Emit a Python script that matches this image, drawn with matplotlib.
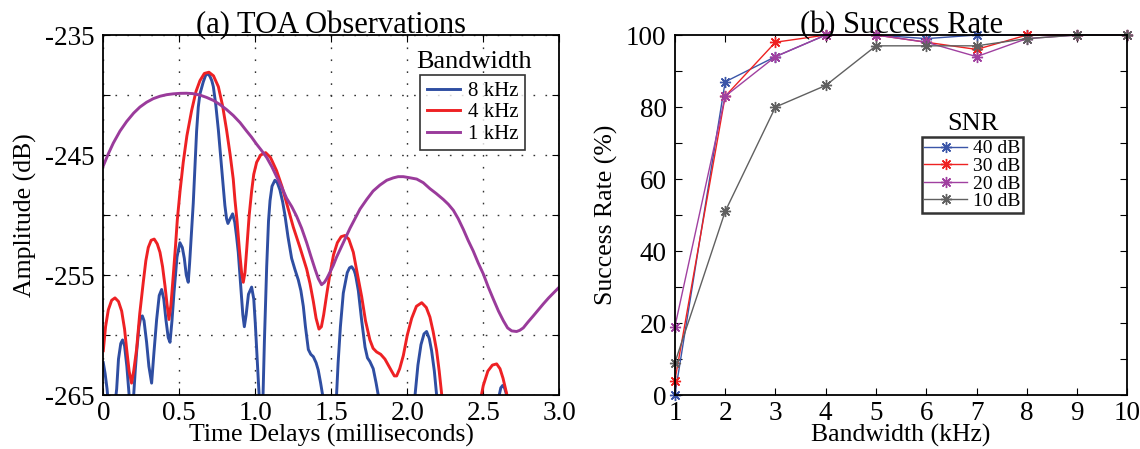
import numpy as np
import matplotlib
matplotlib.use("Agg")
import matplotlib.pyplot as plt

plt.rcParams['font.family'] = ['Liberation Serif', 'DejaVu Serif']

# ---- (a) TOA observations ----
# 8 kHz (values below -265 are off the axis)
t_8k = [0, 0.012, 0.025, 0.035, 0.05, 0.075, 0.088, 0.10, 0.115, 0.127, 0.14, 0.155,
        0.17, 0.185, 0.20, 0.21, 0.22, 0.235, 0.247, 0.257, 0.268, 0.285, 0.30, 0.318,
        0.333, 0.351, 0.368, 0.384, 0.398, 0.412, 0.427, 0.439, 0.452, 0.465, 0.485,
        0.504, 0.52, 0.533, 0.546, 0.559, 0.568, 0.58, 0.592, 0.603, 0.614, 0.625,
        0.636, 0.658, 0.672, 0.684, 0.70, 0.714, 0.724, 0.74, 0.757, 0.773, 0.789,
        0.80, 0.811, 0.82, 0.835, 0.851, 0.865, 0.877, 0.888, 0.905, 0.918, 0.928,
        0.94, 0.955, 0.976, 0.99, 1.0, 1.009, 1.02, 1.03, 1.04, 1.049, 1.06, 1.075,
        1.087, 1.097, 1.11, 1.129, 1.145, 1.162, 1.18, 1.195, 1.215, 1.239, 1.26,
        1.283, 1.30, 1.316, 1.33, 1.349, 1.365, 1.382, 1.40, 1.414, 1.43, 1.443, 1.46,
        1.52, 1.535, 1.545, 1.56, 1.579, 1.605, 1.62, 1.634, 1.65, 1.66, 1.678, 1.70,
        1.722, 1.738, 1.754, 1.776, 1.795, 1.809, 1.825, 2.04, 2.051, 2.07, 2.09,
        2.11, 2.127, 2.145, 2.16, 2.178, 2.193, 2.21, 2.59, 2.605, 2.615, 2.627,
        2.64, 2.654, 2.67, 3.0]
a_8k = [-262.3, -263.2, -264.5, -266, -268, -266, -264.5, -262.0, -260.7, -260.4, -260.9, -262.6,
        -265, -267, -265, -263, -261.3, -259.3, -258.5, -258.4, -258.8, -260.6, -262.6, -264.0,
        -261.5, -258.7, -256.7, -256.2, -257.0, -258.7, -260.2, -260.6, -258.8, -256.5, -253.5,
        -252.3, -252.7, -253.6, -255.0, -255.6, -254.0, -251.5, -249.0, -245.9, -243.0, -241.0,
        -239.9, -238.9, -238.4, -238.2, -238.4, -238.8, -239.3, -240.8, -242.9, -245.2, -247.6,
        -249.2, -250.3, -250.7, -250.3, -249.9, -250.6, -251.8, -253.1, -256.0, -258.3, -259.3,
        -258.3, -256.6, -256.0, -257.0, -259.0, -261.2, -263.8, -266, -268, -266, -260.5, -254.3,
        -250.5, -248.8, -247.6, -247.1, -247.3, -247.9, -248.9, -250.0, -251.8, -253.6, -254.5,
        -255.4, -256.3, -257.6, -259.3, -261.2, -261.6, -261.8, -262.3, -262.9, -264.0, -265.0, -267,
        -267, -264.9, -262.3, -259.3, -256.5, -254.8, -254.4, -254.3, -254.6, -255.0, -256.3, -258.8,
        -261.0, -261.9, -262.2, -262.8, -264.0, -265.0, -267, -267, -265.0, -262.5, -260.8,
        -259.9, -259.7, -260.3, -261.3, -263.0, -265.0, -267, -267, -265.0, -264.4, -264.2,
        -264.4, -265.0, -267, -267]

# 4 kHz
t_4k = [0, 0.015, 0.033, 0.055, 0.077, 0.10, 0.121, 0.14, 0.154, 0.17, 0.186, 0.20,
        0.219, 0.24, 0.263, 0.28, 0.296, 0.315, 0.335, 0.355, 0.373, 0.39, 0.406, 0.42,
        0.432, 0.445, 0.46, 0.475, 0.487, 0.505, 0.526, 0.55, 0.581, 0.61, 0.636, 0.665,
        0.695, 0.725, 0.757, 0.785, 0.811, 0.835, 0.855, 0.866, 0.88, 0.895, 0.91, 0.921,
        0.932, 0.945, 0.96, 0.976, 0.99, 1.009, 1.035, 1.068, 1.10, 1.14, 1.175, 1.206,
        1.25, 1.294, 1.338, 1.36, 1.382, 1.40, 1.419, 1.435, 1.45, 1.47, 1.49, 1.515,
        1.54, 1.565, 1.59, 1.615, 1.645, 1.67, 1.70, 1.725, 1.754, 1.775, 1.798, 1.825,
        1.853, 1.875, 1.897, 1.915, 1.93, 1.95, 1.974, 2.0, 2.029, 2.06, 2.095, 2.125,
        2.149, 2.17, 2.193, 2.21, 2.226, 2.25, 2.45, 2.475, 2.50, 2.53, 2.56, 2.588,
        2.61, 2.63, 2.654, 2.68, 3.0]
a_4k = [-261.3, -259.3, -257.9, -257.1, -256.9, -257.2, -258.0, -259.5, -261.2, -263.0, -264.0, -263.0,
        -261.2, -258.2, -255.6, -253.8, -252.7, -252.1, -252.0, -252.4, -253.1, -254.3, -255.9, -257.5,
        -258.7, -257.5, -255.1, -252.6, -250.4, -248.0, -245.6, -243.4, -241.3, -239.7, -238.8, -238.2,
        -238.1, -238.4, -239.3, -240.9, -242.9, -245.0, -247.0, -248.7, -250.5, -252.8, -254.8, -255.6,
        -254.8, -252.6, -250.0, -248.0, -246.6, -245.6, -245.0, -244.8, -245.2, -246.3, -247.6, -249.0,
        -251.0, -252.7, -254.5, -255.7, -257.2, -258.6, -259.5, -259.3, -258.3, -256.6, -255.0, -253.3,
        -252.3, -251.8, -251.7, -252.0, -253.1, -254.8, -256.8, -258.8, -260.4, -261.1, -261.4, -261.6,
        -262.0, -262.5, -263.0, -263.4, -263.4, -262.8, -261.7, -260.0, -258.6, -257.6, -257.3, -257.7,
        -258.5, -259.7, -261.3, -263.0, -264.9, -268, -268, -265.8, -264.2, -263.0, -262.5, -262.4,
        -262.8, -263.6, -264.9, -267, -267]

# 1 kHz
t_1k = [0, 0.033, 0.066, 0.11, 0.154, 0.2, 0.241, 0.285, 0.329, 0.373, 0.417, 0.46,
        0.504, 0.546, 0.588, 0.635, 0.68, 0.725, 0.768, 0.81, 0.855, 0.9, 0.943, 0.975,
        1.009, 1.04, 1.075, 1.11, 1.14, 1.175, 1.206, 1.24, 1.272, 1.305, 1.338, 1.365,
        1.393, 1.415, 1.436, 1.455, 1.47, 1.49, 1.513, 1.535, 1.557, 1.59, 1.623, 1.656,
        1.689, 1.733, 1.775, 1.82, 1.865, 1.908, 1.94, 1.974, 2.02, 2.062, 2.105, 2.149,
        2.19, 2.237, 2.27, 2.303, 2.335, 2.369, 2.40, 2.434, 2.467, 2.5, 2.533, 2.566,
        2.6, 2.632, 2.66, 2.687, 2.719, 2.74, 2.763, 2.795, 2.829, 2.862, 2.895, 2.93,
        2.961, 3.0]
a_1k = [-245.9, -244.9, -244.0, -243.0, -242.2, -241.5, -241.0, -240.6, -240.3, -240.1, -239.97, -239.9,
        -239.86, -239.85, -239.88, -240.0, -240.2, -240.45, -240.8, -241.2, -241.7, -242.3, -243.0, -243.5,
        -244.1, -244.6, -245.2, -246.0, -246.8, -247.7, -248.6, -249.3, -250.1, -251.1, -252.3, -253.4,
        -254.5, -255.3, -255.8, -255.6, -255.3, -254.8, -254.2, -253.5, -252.9, -252.0, -251.1, -250.3,
        -249.5, -248.7, -248.0, -247.5, -247.1, -246.9, -246.8, -246.8, -246.9, -247.0, -247.3, -247.8,
        -248.2, -248.7, -249.1, -249.6, -250.3, -251.2, -252.1, -253.0, -254.0, -254.9, -256.0, -257.0,
        -258.0, -258.8, -259.4, -259.65, -259.7, -259.6, -259.4, -258.9, -258.4, -257.9, -257.4, -256.9,
        -256.5, -256.0]

# ---- (b) success rate ----
bandwidth = [1, 2, 3, 4, 5, 6, 7, 8, 9, 10]
snr_labels = ['40 dB', '30 dB', '20 dB', '10 dB']
rate_40 = [0, 87, 94, 100, 100, 99, 100, 100, 100, 100]
rate_30 = [4, 83, 98, 100, 100, 98, 96, 100, 100, 100]
rate_20 = [19, 83, 94, 100, 100, 98, 94, 99, 100, 100]
rate_10 = [9, 51, 80, 86, 97, 97, 97, 99, 100, 100]

fig = plt.figure(figsize=(11.4, 4.49), dpi=100)
ax1 = fig.add_axes([0.0906, 0.120, 0.4, 0.802])
ax2 = fig.add_axes([0.592, 0.120, 0.397, 0.802])

tick_fs = 19.5
lab_fs = 18.5

ax1.plot(t_8k, a_8k, color='#2F4EA2', lw=2.1, label='8 kHz')
ax1.plot(t_4k, a_4k, color='#EE2124', lw=2.1, label='4 kHz')
ax1.plot(t_1k, a_1k, color='#9A3B9B', lw=2.1, label='1 kHz')
ax1.set_xlim(0, 3.0)
ax1.set_ylim(-265, -235)
ax1.set_xticks([0, 0.5, 1.0, 1.5, 2.0, 2.5, 3.0])
ax1.set_xticklabels(['0', '0.5', '1.0', '1.5', '2.0', '2.5', '3.0'])
ax1.set_yticks(np.arange(-265, -234, 5))
ax1.set_yticklabels(['-265', '', '-255', '', '-245', '', '-235'])
ax1.grid(True, color='#333333', linestyle=(0, (1.2, 7.4)), linewidth=1.0)
ax1.set_ylabel('Amplitude (dB)', fontsize=lab_fs, labelpad=6)
ax1.set_xlabel('Time Delays (milliseconds)', fontsize=lab_fs, labelpad=-1)
ax1.set_title('(a) TOA Observations', fontsize=22, pad=1)
leg1 = ax1.legend(loc='upper right', bbox_to_anchor=(0.925, 0.889), fontsize=15,
                  frameon=True, fancybox=False, edgecolor='black', handlelength=1.6,
                  borderpad=0.3, labelspacing=0.1, handletextpad=0.4, borderaxespad=0)
leg1.get_frame().set_linewidth(1.2)
ax1.text(0.812, 0.925, 'Bandwidth', transform=ax1.transAxes, fontsize=19, ha='center', va='center')

colors_b = ['#3A55A8', '#EE2222', '#A040A0', '#606060']
for rate, lab, c in zip([rate_40, rate_30, rate_20, rate_10], snr_labels, colors_b):
    ax2.plot(bandwidth, rate, color=c, lw=1.0, marker=(8, 2, 0), markersize=8,
             markeredgewidth=1.0, label=lab, clip_on=False)
ax2.set_xlim(1, 10)
ax2.set_ylim(0, 100)
ax2.set_xticks(bandwidth)
ax2.set_yticks(np.arange(0, 101, 10))
ax2.set_yticklabels(['0', '', '20', '', '40', '', '60', '', '80', '', '100'])
ax2.set_ylabel('Success Rate (%)', fontsize=lab_fs, labelpad=6)
ax2.set_xlabel('Bandwidth (kHz)', fontsize=lab_fs, labelpad=-1)
ax2.set_title('(b) Success Rate', fontsize=22, pad=1)
leg2 = ax2.legend(loc='upper left', bbox_to_anchor=(0.545, 0.717), fontsize=14,
                  frameon=True, fancybox=False, edgecolor='black', handlelength=2.2,
                  borderpad=0.15, labelspacing=0.0, handletextpad=0.3, borderaxespad=0)
leg2.get_frame().set_linewidth(1.8)
ax2.text(0.658, 0.752, 'SNR', transform=ax2.transAxes, fontsize=19, ha='center', va='center')

for ax in (ax1, ax2):
    ax.tick_params(direction='in', labelsize=tick_fs, top=True, right=True, length=5)
    ax.tick_params(axis='x', pad=4)
    ax.tick_params(axis='y', pad=6)
    for s in ax.spines.values():
        s.set_linewidth(1.3)

fig.savefig('out.png', dpi=100)
